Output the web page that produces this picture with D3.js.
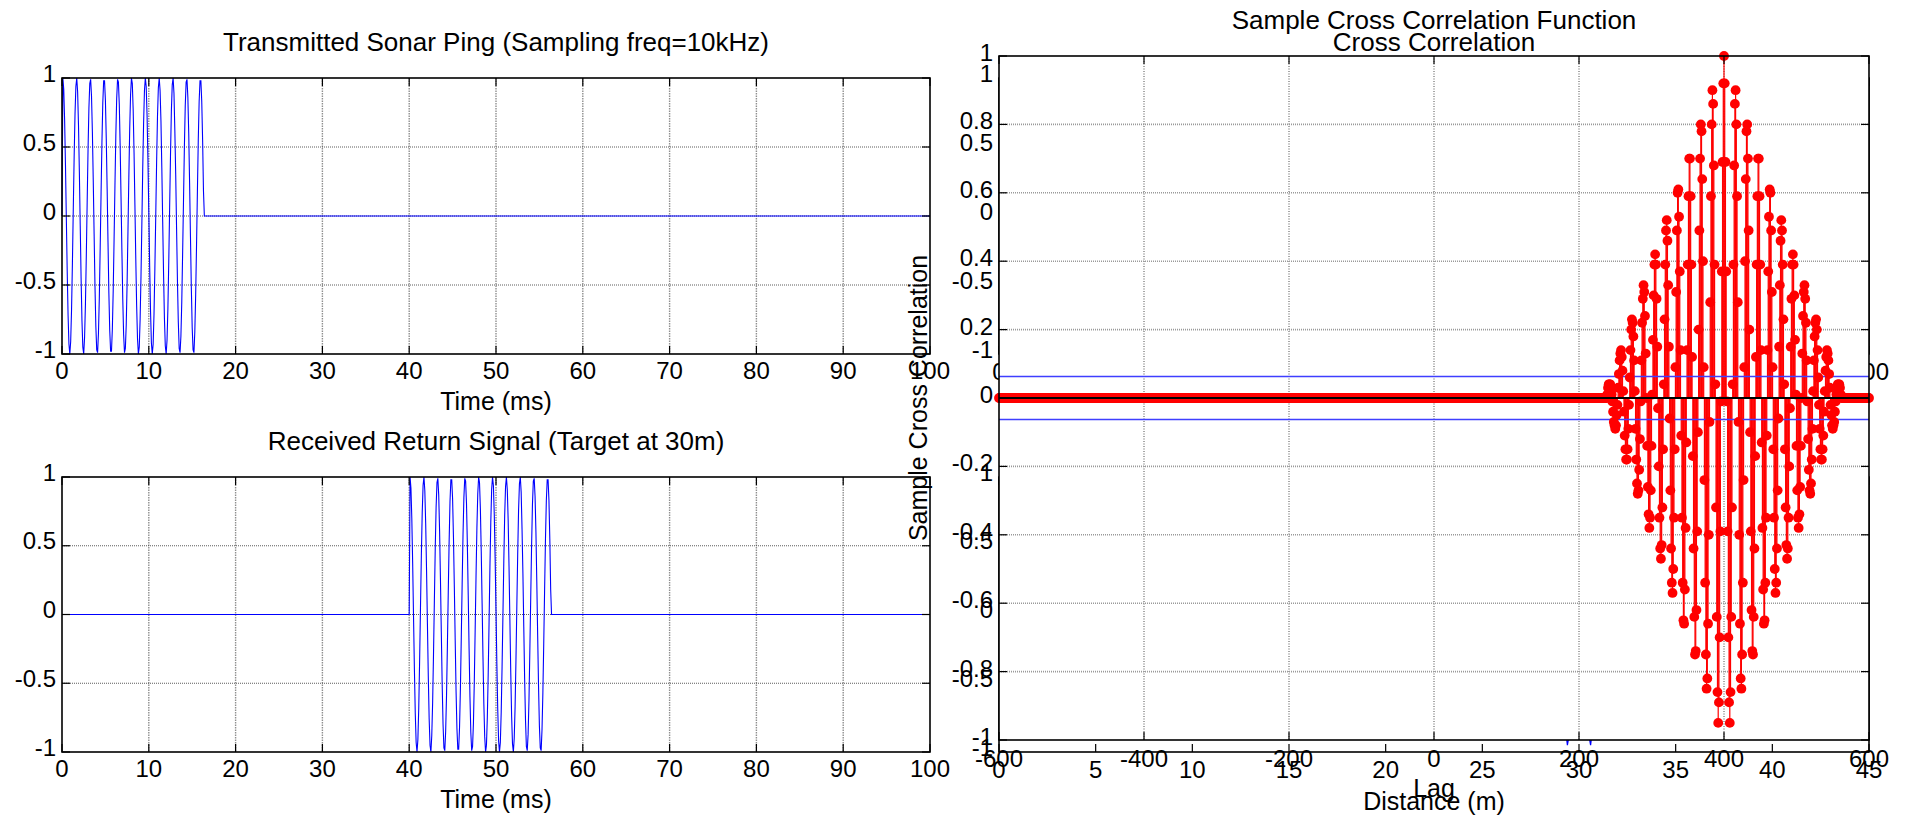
<!DOCTYPE html>
<html><head><meta charset="utf-8">
<script src="https://cdn.jsdelivr.net/npm/d3@7"></script>
<style>
html,body{margin:0;padding:0;background:#fff;}
svg{display:block;}
text{font-family:"Liberation Sans",Arial,Helvetica,sans-serif;fill:#000;}
</style></head><body>
<svg id="fig" width="1906" height="821"></svg>
<script>
// ---------------- data ----------------
const timeTicks = [0, 10, 20, 30, 40, 50, 60, 70, 80, 90, 100];
const ampTicks = [-1, -0.5, 0, 0.5, 1];
const lagTicks = [-600, -400, -200, 0, 200, 400, 600];
const ccfTicks = [-1, -0.8, -0.6, -0.4, -0.2, 0, 0.2, 0.4, 0.6, 0.8, 1];
const distTicks = [0, 5, 10, 15, 20, 25, 30, 35, 40, 45];

const sampleIntervalMs = 0.1;     // 10 kHz sampling
const recordLengthMs = 100;
const echoStartMs = 40;           // echo from the target at 30 m

// transmitted ping samples, one every 0.1 ms starting at t = 0
const pingSamples = [0, 1.00, 0.92, 0.70, 0.37, -0.02, -0.40, -0.72, -0.93, -1.00, -0.91, -0.68, -0.34, 0.05, 0.43, 0.74, 0.94, 1.00, 0.90, 0.66, 0.32, -0.07, -0.45, -0.76, -0.95, -1.00, -0.88, -0.64, -0.29, 0.10, 0.48, 0.78, 0.96, 0.99, 0.87, 0.61, 0.26, -0.13, -0.51, -0.80, -0.97, -0.99, -0.85, -0.59, -0.23, 0.16, 0.53, 0.82, 0.98, 0.98, 0.84, 0.56, 0.20, -0.19, -0.56, -0.83, -0.98, -0.98, -0.82, -0.54, -0.17, 0.22, 0.58, 0.85, 0.99, 0.97, 0.81, 0.51, 0.14, -0.25, -0.60, -0.86, -0.99, -0.96, -0.79, -0.49, -0.11, 0.28, 0.63, 0.88, 1.00, 0.96, 0.77, 0.46, 0.08, -0.31, -0.65, -0.89, -1.00, -0.95, -0.75, -0.44, -0.06, 0.34, 0.67, 0.91, 1.00, 0.94, 0.73, 0.41, 0.03, -0.36, -0.69, -0.92, -1.00, -0.93, -0.71, -0.38, 0.00, 0.39, 0.72, 0.93, 1.00, 0.91, 0.69, 0.35, -0.04, -0.42, -0.74, -0.94, -1.00, -0.90, -0.67, -0.33, 0.06, 0.44, 0.76, 0.95, 1.00, 0.89, 0.62, 0.30, -0.09, -0.47, -0.77, -0.96, -0.99, -0.87, -0.62, -0.26, 0.12, 0.50, 0.80, 0.97, 0.99, 0.86, 0.60, 0.24, -0.15, -0.52, -0.81, -0.97, -0.99, -0.84, -0.57, -0.21, 0.18, 0.55, 0.83, 0.98, 0.98, 0.83, 0.55, 0.18, 0];

// sample cross correlation, lags -600..600; nonzero from lag 236 onwards
const lagMin = -600, lagMax = 600;
const ccfStartLag = 236;
const ccfValues = [0.00, 0.00, 0.00, 0.01, 0.03, 0.04, 0.04, 0.04, 0.03, 0.01, -0.01, -0.04, -0.07, -0.08, -0.09, -0.08, -0.05, -0.02, 0.03, 0.07, 0.11, 0.13, 0.14, 0.12, 0.08, 0.02, -0.04, -0.11, -0.15, -0.18, -0.18, -0.15, -0.09, -0.02, 0.06, 0.14, 0.20, 0.23, 0.22, 0.18, 0.11, 0.02, -0.09, -0.18, -0.25, -0.28, -0.27, -0.21, -0.12, -0.01, 0.11, 0.22, 0.29, 0.33, 0.31, 0.24, 0.13, 0.00, -0.14, -0.26, -0.34, -0.38, -0.35, -0.27, -0.14, 0.01, 0.17, 0.30, 0.39, 0.42, 0.39, 0.29, 0.15, -0.03, -0.20, -0.35, -0.44, -0.47, -0.43, -0.32, -0.15, 0.04, 0.23, 0.39, 0.49, 0.52, 0.46, 0.33, 0.15, -0.06, -0.27, -0.44, -0.54, -0.57, -0.50, -0.35, -0.15, 0.09, 0.31, 0.49, 0.60, 0.61, 0.53, 0.37, 0.14, -0.11, -0.35, -0.54, -0.65, -0.66, -0.56, -0.38, -0.13, 0.14, 0.39, 0.59, 0.70, 0.70, 0.59, 0.39, 0.12, -0.17, -0.44, -0.64, -0.75, -0.74, -0.62, -0.39, -0.10, 0.20, 0.49, 0.70, 0.80, 0.78, 0.64, 0.40, 0.09, -0.24, -0.54, -0.75, -0.85, -0.82, -0.66, -0.40, -0.07, 0.28, 0.59, 0.80, 0.90, 0.86, 0.68, 0.39, 0.04, -0.32, -0.64, -0.86, -0.95, -0.89, -0.70, -0.39, -0.01, 0.37, 0.69, 0.92,
  1.00, 0.92, 0.69, 0.37, -0.01, -0.39, -0.70, -0.89, -0.95, -0.86, -0.64, -0.32, 0.04, 0.39, 0.68, 0.86, 0.90, 0.80, 0.59, 0.28, -0.07, -0.40, -0.66, -0.82, -0.85, -0.75, -0.54, -0.24, 0.09, 0.40, 0.64, 0.78, 0.80, 0.70, 0.49, 0.20, -0.10, -0.39, -0.62, -0.74, -0.75, -0.64, -0.44, -0.17, 0.12, 0.39, 0.59, 0.70, 0.70, 0.59, 0.39, 0.14, -0.13, -0.38, -0.56, -0.66, -0.65, -0.54, -0.35, -0.11, 0.14, 0.37, 0.53, 0.61, 0.60, 0.49, 0.31, 0.09, -0.15, -0.35, -0.50, -0.57, -0.54, -0.44, -0.27, -0.06, 0.15, 0.33, 0.46, 0.52, 0.49, 0.39, 0.23, 0.04, -0.15, -0.32, -0.43, -0.47, -0.44, -0.35, -0.20, -0.03, 0.15, 0.29, 0.39, 0.42, 0.39, 0.30, 0.17, 0.01, -0.14, -0.27, -0.35, -0.38, -0.34, -0.26, -0.14, 0.00, 0.13, 0.24, 0.31, 0.33, 0.29, 0.22, 0.11, -0.01, -0.12, -0.21, -0.27, -0.28, -0.25, -0.18, -0.09, 0.02, 0.11, 0.18, 0.22, 0.23, 0.20, 0.14, 0.06, -0.02, -0.09, -0.15, -0.18, -0.18, -0.15, -0.11, -0.04, 0.02, 0.08, 0.12, 0.14, 0.13, 0.11, 0.07, 0.03, -0.02, -0.05, -0.08, -0.09, -0.08, -0.07, -0.04, -0.01, 0.01, 0.03, 0.04, 0.04, 0.04, 0.03, 0.01, 0.00, 0.00, 0.00];
const confidenceBound = 0.0632;
const metersPerLag = 0.075;

// ---------------- derived series ----------------
const nSamples = Math.round(recordLengthMs / sampleIntervalMs) + 1;
const echoStart = Math.round(echoStartMs / sampleIntervalMs);
const transmitted = d3.range(nSamples).map(i => ({t: i * sampleIntervalMs, v: i < pingSamples.length ? pingSamples[i] : 0}));
const received = d3.range(nSamples).map(i => {
  const j = i - echoStart;
  return {t: i * sampleIntervalMs, v: (j >= 0 && j < pingSamples.length) ? pingSamples[j] : 0};
});
const ccf = d3.range(lagMin, lagMax + 1).map(l => {
  const j = l - ccfStartLag;
  return {lag: l, v: (j >= 0 && j < ccfValues.length) ? ccfValues[j] : 0};
});

// ---------------- drawing ----------------
const svg = d3.select("#fig");
const FS_TICK = 24, FS_TITLE = 26, FS_LABEL = 25;
const TL = 8;

function drawBox(g, x0, x1, y0, y1) {
  g.append("rect").attr("x", x0).attr("y", y0).attr("width", x1 - x0).attr("height", y1 - y0)
    .attr("fill", "none").attr("stroke", "#000").attr("stroke-width", 1.6);
}
function drawTicks(g, xs, ys, xTicks, yTicks) {
  const [x0, x1] = xs.range(), [y1, y0] = ys.range();
  xTicks.forEach(t => {
    const x = xs(t);
    g.append("line").attr("x1", x).attr("x2", x).attr("y1", y1).attr("y2", y1 - TL).attr("stroke", "#000").attr("stroke-width", 1.2);
    g.append("line").attr("x1", x).attr("x2", x).attr("y1", y0).attr("y2", y0 + TL).attr("stroke", "#000").attr("stroke-width", 1.2);
  });
  yTicks.forEach(t => {
    const y = ys(t);
    g.append("line").attr("x1", x0).attr("x2", x0 + TL).attr("y1", y).attr("y2", y).attr("stroke", "#000").attr("stroke-width", 1.2);
    g.append("line").attr("x1", x1).attr("x2", x1 - TL).attr("y1", y).attr("y2", y).attr("stroke", "#000").attr("stroke-width", 1.2);
  });
}
function tickLabels(g, xs, ys, xTicks, yTicks, xOff, yOff) {
  const [x0] = xs.range(), [y1] = ys.range();
  xTicks.forEach(t => g.append("text").attr("x", xs(t)).attr("y", y1 + xOff).attr("text-anchor", "middle")
    .attr("font-size", FS_TICK).text(String(t)));
  yTicks.forEach(t => g.append("text").attr("x", x0 - 6).attr("y", ys(t) + yOff).attr("text-anchor", "end")
    .attr("font-size", FS_TICK).text(String(t)));
}
function grid(g, xs, ys, xTicks, yTicks, vStyle, hStyle) {
  const [x0, x1] = xs.range(), [y1, y0] = ys.range();
  xTicks.forEach(t => g.append("line").attr("x1", xs(t)).attr("x2", xs(t)).attr("y1", y0).attr("y2", y1)
    .attr("stroke", vStyle[0]).attr("stroke-width", vStyle[1]).attr("stroke-dasharray", vStyle[2]));
  yTicks.forEach(t => g.append("line").attr("x1", x0).attr("x2", x1).attr("y1", ys(t)).attr("y2", ys(t))
    .attr("stroke", hStyle[0]).attr("stroke-width", hStyle[1]).attr("stroke-dasharray", hStyle[2]));
}

// ---- left signal panels ----
function signalPanel(data, y0, y1, title) {
  const g = svg.append("g");
  const xs = d3.scaleLinear().domain([0, 100]).range([62, 930]);
  const ys = d3.scaleLinear().domain([-1, 1]).range([y1, y0]);
  g.append("rect").attr("x", 62).attr("y", y0).attr("width", 868).attr("height", y1 - y0).attr("fill", "#fff");
  grid(g, xs, ys, timeTicks.slice(1, -1), [-0.5, 0, 0.5], ["#8f8f8f", 1.4, "1.5,1"], ["#4a4a4a", 0.9, "1,1"]);
  const line = d3.line().x(d => xs(d.t)).y(d => ys(d.v));
  g.append("path").datum(data).attr("d", line).attr("fill", "none").attr("stroke", "#0000ff").attr("stroke-width", 1.1);
  drawBox(g, 62, 930, y0, y1);
  drawTicks(g, xs, ys, timeTicks, ampTicks);
  tickLabels(g, xs, ys, timeTicks, ampTicks, 24.5, 3.5);
  g.append("text").attr("x", 496).attr("y", y0 - 27).attr("text-anchor", "middle").attr("font-size", FS_TITLE).text(title);
  g.append("text").attr("x", 496).attr("y", y1 + 56).attr("text-anchor", "middle").attr("font-size", FS_LABEL).text("Time (ms)");
}
signalPanel(transmitted, 78, 354, "Transmitted Sonar Ping (Sampling freq=10kHz)");
signalPanel(received, 477, 752, "Received Return Signal (Target at 30m)");

// ---- A: "Cross Correlation" axes (mostly hidden behind B) ----
{
  const g = svg.append("g");
  const xs = d3.scaleLinear().domain([0, 100]).range([999, 1869]);
  const ys = d3.scaleLinear().domain([-1, 1]).range([354, 78]);
  drawBox(g, 999, 1869, 78, 354);
  drawTicks(g, xs, ys, timeTicks, ampTicks);
  tickLabels(g, xs, ys, timeTicks, ampTicks, 25.5, 3.5);
  g.append("text").attr("x", 1434).attr("y", 78 - 27).attr("text-anchor", "middle").attr("font-size", FS_TITLE).text("Cross Correlation");
}

// ---- C: distance axes (mostly hidden behind B) ----
{
  const g = svg.append("g");
  const xs = d3.scaleLinear().domain([0, 45]).range([999, 1869]);
  const ys = d3.scaleLinear().domain([-1, 1]).range([752, 477]);
  const pts = ccf.filter(d => d.lag >= 0).map(d => ({x: d.lag * metersPerLag, v: d.v}));
  g.append("path").datum(pts).attr("d", d3.line().x(d => xs(d.x)).y(d => ys(d.v)))
    .attr("fill", "none").attr("stroke", "#0000ff").attr("stroke-width", 1.2);
  drawBox(g, 999, 1869, 477, 752);
  drawTicks(g, xs, ys, distTicks, ampTicks);
  tickLabels(g, xs, ys, distTicks, ampTicks, 26, 3.5);
  g.append("text").attr("x", 1434).attr("y", 752 + 58).attr("text-anchor", "middle").attr("font-size", FS_LABEL).text("Distance (m)");
}

// ---- B: Sample Cross Correlation Function (stem plot, on top) ----
{
  const g = svg.append("g");
  const xs = d3.scaleLinear().domain([lagMin, lagMax]).range([999, 1869]);
  const ys = d3.scaleLinear().domain([-1, 1]).range([740, 56]);
  g.append("rect").attr("x", 999).attr("y", 56).attr("width", 870).attr("height", 684).attr("fill", "#fff");
  grid(g, xs, ys, [-400, -200, 0, 200, 400], ccfTicks.filter(t => Math.abs(t) !== 1 && t !== 0),
       ["#3a3a3a", 0.9, "1,1.5"], ["#9a9a9a", 1.6, "1,1"]);
  const y0 = ys(0);
  g.append("g").selectAll("line").data(ccf.filter(d => d.v !== 0)).join("line")
    .attr("x1", d => xs(d.lag)).attr("x2", d => xs(d.lag)).attr("y1", y0).attr("y2", d => ys(d.v))
    .attr("stroke", "#ff0000").attr("stroke-width", 1.2);
  [confidenceBound, -confidenceBound].forEach(b => g.append("line").attr("x1", 999).attr("x2", 1869)
    .attr("y1", ys(b)).attr("y2", ys(b)).attr("stroke", "#3f3fff").attr("stroke-width", 1.5));
  g.append("g").selectAll("circle").data(ccf).join("circle")
    .attr("cx", d => xs(d.lag)).attr("cy", d => ys(d.v)).attr("r", 4.9).attr("fill", "#ff0000");
  g.append("line").attr("x1", 999).attr("x2", 1869).attr("y1", y0).attr("y2", y0).attr("stroke", "#000").attr("stroke-width", 2);
  drawBox(g, 999, 1869, 56, 740);
  drawTicks(g, xs, ys, lagTicks, ccfTicks);
  tickLabels(g, xs, ys, lagTicks, ccfTicks, 27, 5);
  g.append("text").attr("x", 1434).attr("y", 56 - 27).attr("text-anchor", "middle").attr("font-size", FS_TITLE).text("Sample Cross Correlation Function");
  g.append("text").attr("x", 1434).attr("y", 740 + 57).attr("text-anchor", "middle").attr("font-size", FS_LABEL).text("Lag");
  g.append("text").attr("transform", "translate(927,398) rotate(-90)").attr("text-anchor", "middle")
    .attr("font-size", FS_LABEL).text("Sample Cross Correlation");
}
</script>
</body></html>
